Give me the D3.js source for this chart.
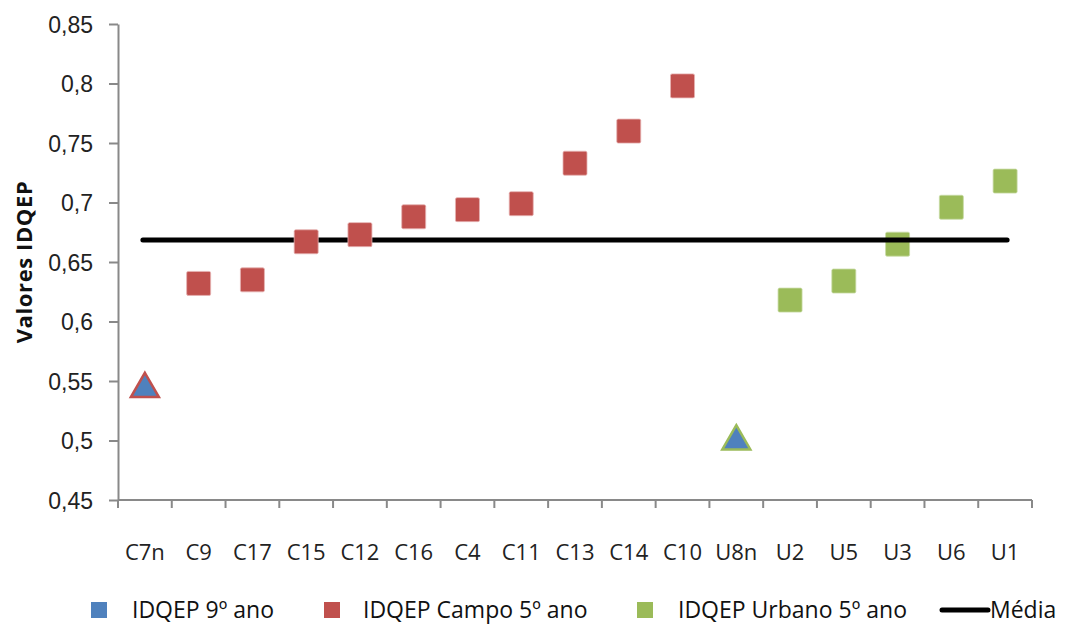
<!DOCTYPE html>
<html>
<head>
<meta charset="utf-8">
<script src="https://cdn.jsdelivr.net/npm/d3@7"></script>
<style>
  body { margin: 0; background: #fff; }
  svg { display: block; font-family: "Open Sans", Lato, sans-serif; }
  .axis path, .axis line { stroke: #898989; stroke-width: 2px; }
  .axis text { fill: #222; font-size: 22px; }
  .yaxis text { font-size: 23px; }
</style>
</head>
<body>
<svg id="chart"></svg>
<script>
// data
const categories = ["C7n", "C9", "C17", "C15", "C12", "C16", "C4", "C11", "C13", "C14", "C10",
                    "U8n", "U2", "U5", "U3", "U6", "U1"];
const ano9Cats = ["C7n", "U8n"];
const ano9Values = [0.545, 0.501];
const campoCats = ["C9", "C17", "C15", "C12", "C16", "C4", "C11", "C13", "C14", "C10"];
const campoValues = [0.632, 0.635, 0.667, 0.673, 0.688, 0.694, 0.699, 0.733, 0.760, 0.798];
const urbanoCats = ["U2", "U5", "U3", "U6", "U1"];
const urbanoValues = [0.618, 0.634, 0.665, 0.696, 0.718];
const mediaValue = 0.6685;
const yTicks = [0.45, 0.5, 0.55, 0.6, 0.65, 0.7, 0.75, 0.8, 0.85];
const legendLabels = ["IDQEP 9º ano", "IDQEP Campo 5º ano", "IDQEP Urbano 5º ano", "Média"];

const width = 1067, height = 624;
const margin = { left: 118, right: 35, top: 24, bottom: 124 };
const blue = "#4F81BD", red = "#C0504D", green = "#9BBB59";

const svg = d3.select("#chart").attr("width", width).attr("height", height);

const x = d3.scaleBand()
    .domain(categories)
    .range([margin.left, width - margin.right])
    .padding(0);
const y = d3.scaleLinear()
    .domain([0.45, 0.85])
    .range([height - margin.bottom, margin.top]);

const ptBR = d3.formatLocale({ decimal: ",", thousands: ".", grouping: [3], currency: ["R$", ""] });
const fmt = ptBR.format(".2~f");
const cx = c => x(c) + x.bandwidth() / 2;

// y axis
svg.append("g")
    .attr("class", "axis yaxis")
    .attr("transform", "translate(" + margin.left + ",0)")
    .call(d3.axisLeft(y).tickValues(yTicks).tickFormat(fmt).tickSize(9).tickPadding(16).tickSizeOuter(0))
    .call(g => g.selectAll("text").attr("dy", "0.36em"));

// x axis: ticks on category boundaries
const xAxis = svg.append("g")
    .attr("class", "axis")
    .attr("transform", "translate(0," + y(0.45) + ")");
xAxis.append("line")
    .attr("x1", margin.left).attr("x2", width - margin.right);
xAxis.selectAll(".bound")
    .data(categories.concat(["_end"]))
    .enter().append("line")
    .attr("x1", (d, i) => i < categories.length ? x(d) : x.range()[1])
    .attr("x2", (d, i) => i < categories.length ? x(d) : x.range()[1])
    .attr("y1", 0).attr("y2", 8);
xAxis.selectAll(".lbl")
    .data(categories)
    .enter().append("text")
    .attr("x", d => cx(d))
    .attr("y", 52)
    .attr("text-anchor", "middle")
    .attr("dy", "0.35em")
    .text(d => d);

// y title
svg.append("text")
    .attr("transform", "translate(24," + ((margin.top + y(0.45)) / 2) + ") rotate(-90)")
    .attr("text-anchor", "middle")
    .attr("dy", "0.35em")
    .style("font-size", "22px")
    .style("letter-spacing", "0.6px")
    .style("font-weight", "bold")
    .style("fill", "#111")
    .text("Valores IDQEP");

const sq = 24;

// urbano squares (drawn below the mean line)
svg.selectAll(".urb")
    .data(urbanoCats)
    .enter().append("rect")
    .attr("x", d => cx(d) - sq / 2)
    .attr("y", (d, i) => y(urbanoValues[i]) - sq / 2)
    .attr("width", sq).attr("height", sq)
    .attr("rx", 1.5)
    .style("fill", green)
    .style("stroke", "#c8dba6").style("stroke-width", 0.8);

// mean line
svg.append("line")
    .attr("x1", cx(categories[0]) - 2)
    .attr("x2", cx(categories[categories.length - 1]) + 2)
    .attr("y1", y(mediaValue)).attr("y2", y(mediaValue))
    .style("stroke", "#000").style("stroke-width", 5)
    .style("stroke-linecap", "round");

// campo squares
svg.selectAll(".campo")
    .data(campoCats)
    .enter().append("rect")
    .attr("x", d => cx(d) - sq / 2)
    .attr("y", (d, i) => y(campoValues[i]) - sq / 2)
    .attr("width", sq).attr("height", sq)
    .attr("rx", 1.5)
    .style("fill", red)
    .style("stroke", "#e6b3b2").style("stroke-width", 0.8);

// 9º ano triangles
const tri = d3.symbol().type(d3.symbolTriangle).size(340);
svg.selectAll(".ano9")
    .data(ano9Cats)
    .enter().append("path")
    .attr("d", tri)
    .attr("transform", (d, i) => "translate(" + cx(d) + "," + (y(ano9Values[i]) + 2) + ")")
    .style("fill", blue)
    .style("stroke", d => d.startsWith("C") ? red : green)
    .style("stroke-width", 2.5)
    .style("stroke-linejoin", "miter");

// legend
const legY = 610;
const legX = [99, 332, 645];
const legText = [132, 363, 678];
const legColors = [blue, red, green];
const leg = svg.append("g").style("font-size", "23px").style("fill", "#111");
legColors.forEach((c, i) => {
    leg.append("rect")
        .attr("x", legX[i] - 8).attr("y", legY - 8)
        .attr("width", 16).attr("height", 16)
        .style("fill", c);
    leg.append("text")
        .attr("x", legText[i]).attr("y", legY)
        .attr("dy", "0.35em")
        .text(legendLabels[i]);
});
leg.append("line")
    .attr("x1", 942).attr("x2", 988)
    .attr("y1", legY).attr("y2", legY)
    .style("stroke", "#000").style("stroke-width", 5)
    .style("stroke-linecap", "round");
leg.append("text")
    .attr("x", 990).attr("y", legY)
    .attr("dy", "0.35em")
    .text(legendLabels[3]);
</script>
</body>
</html>
